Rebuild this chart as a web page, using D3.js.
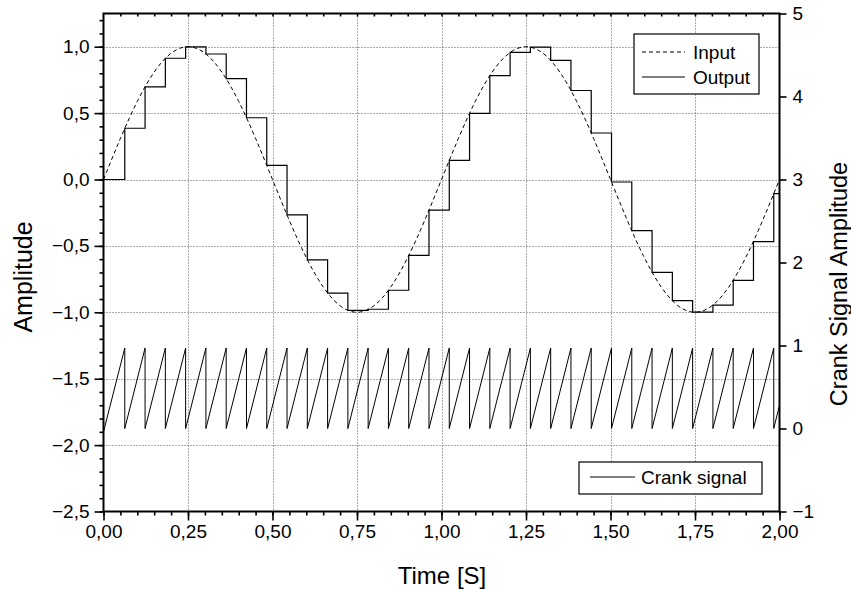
<!DOCTYPE html>
<html>
<head>
<meta charset="utf-8">
<script src="https://cdn.jsdelivr.net/npm/d3@7/dist/d3.min.js"></script>
<style>
  html, body { margin: 0; padding: 0; background: #fff; }
  svg { display: block; font-family: "Liberation Sans", Arial, sans-serif; }
</style>
</head>
<body>
<svg id="chart" width="851" height="589"></svg>
<script>
// ---------------- data ----------------
const inputTime = [0.00,0.05,0.10,0.15,0.20,0.25,0.30,0.35,0.40,0.45,0.50,0.55,0.60,0.65,0.70,0.75,0.80,0.85,0.90,0.95,
                   1.00,1.05,1.10,1.15,1.20,1.25,1.30,1.35,1.40,1.45,1.50,1.55,1.60,1.65,1.70,1.75,1.80,1.85,1.90,1.95,2.00];
const inputValue = [0,0.309,0.588,0.809,0.951,1,0.951,0.809,0.588,0.309,0,-0.309,-0.588,-0.809,-0.951,-1,-0.951,-0.809,-0.588,-0.309,
                    0,0.309,0.588,0.809,0.951,1,0.951,0.809,0.588,0.309,0,-0.309,-0.588,-0.809,-0.951,-1,-0.951,-0.809,-0.588,-0.309,0];

const outputTime = [0,0.063,0.123,0.183,0.243,0.303,0.363,0.423,0.483,0.543,0.603,0.663,0.723,0.783,0.843,0.903,0.963,
                    1.023,1.083,1.143,1.203,1.263,1.323,1.383,1.443,1.503,1.563,1.623,1.683,1.743,1.803,1.863,1.923,1.983,2.0];
const outputValue = [0,0.386,0.698,0.913,0.999,0.945,0.759,0.465,0.106,-0.267,-0.605,-0.856,-0.986,-0.977,-0.834,-0.571,-0.231,
                     0.144,0.498,0.782,0.957,0.997,0.897,0.670,0.350,-0.019,-0.385,-0.700,-0.912,-0.999,-0.946,-0.760,-0.468,-0.106,-0.106];

const crankTime = [0,
  0.063,0.063,0.123,0.123,0.183,0.183,0.243,0.243,0.303,0.303,0.363,0.363,0.423,0.423,0.483,0.483,
  0.543,0.543,0.603,0.603,0.663,0.663,0.723,0.723,0.783,0.783,0.843,0.843,0.903,0.903,0.963,0.963,
  1.023,1.023,1.083,1.083,1.143,1.143,1.203,1.203,1.263,1.263,1.323,1.323,1.383,1.383,1.443,1.443,
  1.503,1.503,1.563,1.563,1.623,1.623,1.683,1.683,1.743,1.743,1.803,1.803,1.863,1.863,1.923,1.923,
  1.983,1.983,2.0];
const crankValue = [-0.04,
  0.97,0,0.97,0,0.97,0,0.97,0,0.97,0,0.97,0,0.97,0,0.97,0,
  0.97,0,0.97,0,0.97,0,0.97,0,0.97,0,0.97,0,0.97,0,0.97,0,
  0.97,0,0.97,0,0.97,0,0.97,0,0.97,0,0.97,0,0.97,0,0.97,0,
  0.97,0,0.97,0,0.97,0,0.97,0,0.97,0,0.97,0,0.97,0,0.97,0,
  0.97,0,0.28];

const xTicks = [0,0.25,0.5,0.75,1.0,1.25,1.5,1.75,2.0];
const yLeftTicks = [-2.5,-2.0,-1.5,-1.0,-0.5,0.0,0.5,1.0];
const yRightTicks = [-1,0,1,2,3,4,5];
const xGrid = [0.25,0.5,0.75,1.0,1.25,1.5,1.75];
const yGrid = [-2.0,-1.5,-1.0,-0.5,0.0,0.5,1.0];

// ---------------- layout ----------------
const L = 103.5, R = 779.5, T = 13.5, B = 511.5;
const svg = d3.select("#chart");
const x = d3.scaleLinear().domain([0, 2]).range([L, R]);
const yL = d3.scaleLinear().domain([-2.5, 1.25]).range([B, T]);
const yR = d3.scaleLinear().domain([-1, 5]).range([B, T]);
const comma = d => d3.format(".2f")(d).replace(".", ",");
const comma1 = d => d3.format(".1f")(d).replace(".", ",");

// grid
const grid = svg.append("g").attr("stroke", "#555").attr("stroke-width", 1).attr("stroke-dasharray", "1,2");
grid.selectAll("line.gx").data(xGrid).join("line")
  .attr("x1", d => Math.round(x(d)) + 0.5).attr("x2", d => Math.round(x(d)) + 0.5)
  .attr("y1", T).attr("y2", B);
grid.selectAll("line.gy").data(yGrid).join("line")
  .attr("y1", d => Math.round(yL(d)) + 0.5).attr("y2", d => Math.round(yL(d)) + 0.5)
  .attr("x1", L).attr("x2", R);

// lines
const inputLine = d3.line().x((d, i) => x(inputTime[i])).y(d => yL(d)).curve(d3.curveNatural);
svg.append("path").attr("d", inputLine(inputValue))
  .attr("fill", "none").attr("stroke", "#000").attr("stroke-width", 1).attr("stroke-dasharray", "4,3");

const outputLine = d3.line().x((d, i) => x(outputTime[i])).y(d => yL(d)).curve(d3.curveStepAfter);
svg.append("path").attr("d", outputLine(outputValue))
  .attr("fill", "none").attr("stroke", "#000").attr("stroke-width", 1.2);

const crankLine = d3.line().x((d, i) => x(crankTime[i])).y(d => yR(d));
svg.append("path").attr("d", crankLine(crankValue))
  .attr("fill", "none").attr("stroke", "#000").attr("stroke-width", 1);

// axes
const fs = 19;
function styleAxis(g) {
  g.select(".domain").remove();
  g.selectAll("line").attr("stroke", "#000").attr("stroke-width", 1.6);
  g.selectAll("text").attr("font-size", fs).attr("fill", "#000").attr("font-family", "Liberation Sans, Arial, sans-serif");
}
// bottom
svg.append("g").attr("transform", `translate(0,${B})`)
  .call(d3.axisBottom(x).tickValues(d3.range(0, 2.0001, 0.05)).tickSize(4).tickFormat(""))
  .call(styleAxis);
svg.append("g").attr("transform", `translate(0,${B})`)
  .call(d3.axisBottom(x).tickValues(xTicks).tickSize(9).tickPadding(4).tickFormat(comma))
  .call(styleAxis);
// top (inward minor ticks)
svg.append("g").attr("transform", `translate(0,${T})`)
  .call(d3.axisBottom(x).tickValues(d3.range(0.05, 2, 0.05)).tickSize(3).tickFormat(""))
  .call(styleAxis);
// left
svg.append("g").attr("transform", `translate(${L},0)`)
  .call(d3.axisLeft(yL).tickValues(d3.range(-2.5, 1.2501, 0.1)).tickSize(4).tickFormat(""))
  .call(styleAxis);
svg.append("g").attr("transform", `translate(${L},0)`)
  .call(d3.axisLeft(yL).tickValues(yLeftTicks).tickSize(9).tickPadding(5).tickFormat(comma1))
  .call(styleAxis);
// right
svg.append("g").attr("transform", `translate(${R},0)`)
  .call(d3.axisRight(yR).tickValues(yRightTicks).tickSize(7).tickPadding(6).tickFormat(d3.format("d")))
  .call(styleAxis);

// frame
svg.append("rect").attr("x", L).attr("y", T).attr("width", R - L).attr("height", B - T)
  .attr("fill", "none").attr("stroke", "#000").attr("stroke-width", 2);

// titles
svg.append("text").attr("x", 442).attr("y", 584).attr("text-anchor", "middle")
  .attr("font-size", 24).text("Time [S]");
svg.append("text").attr("transform", "translate(32,277) rotate(-90)").attr("text-anchor", "middle")
  .attr("font-size", 25).text("Amplitude");
svg.append("text").attr("transform", "translate(847,284) rotate(-90)").attr("text-anchor", "middle")
  .attr("font-size", 23.5).text("Crank Signal Amplitude");

// legend 1
const lg1 = svg.append("g");
lg1.append("rect").attr("x", 634).attr("y", 34).attr("width", 125).attr("height", 60)
  .attr("fill", "#fff").attr("stroke", "#000").attr("stroke-width", 1.2);
lg1.append("line").attr("x1", 642).attr("x2", 685).attr("y1", 52).attr("y2", 52)
  .attr("stroke", "#000").attr("stroke-dasharray", "4,3");
lg1.append("line").attr("x1", 642).attr("x2", 685).attr("y1", 77).attr("y2", 77)
  .attr("stroke", "#000");
lg1.append("text").attr("x", 693).attr("y", 59).attr("font-size", 19).text("Input");
lg1.append("text").attr("x", 693).attr("y", 84).attr("font-size", 19).text("Output");

// legend 2
const lg2 = svg.append("g");
lg2.append("rect").attr("x", 579).attr("y", 462).attr("width", 183).attr("height", 32)
  .attr("fill", "#fff").attr("stroke", "#000").attr("stroke-width", 1.2);
lg2.append("line").attr("x1", 590).attr("x2", 635).attr("y1", 477).attr("y2", 477)
  .attr("stroke", "#000");
lg2.append("text").attr("x", 641).attr("y", 484).attr("font-size", 19).text("Crank signal");
</script>
</body>
</html>
